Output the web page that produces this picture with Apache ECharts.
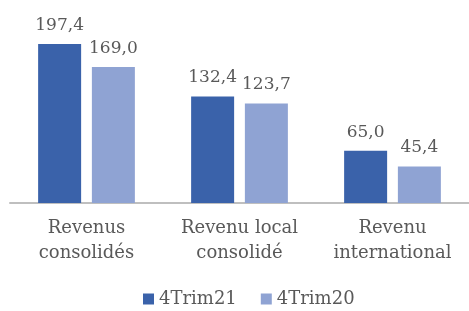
<!DOCTYPE html>
<html>
<head>
<meta charset="utf-8">
<script src="https://cdn.jsdelivr.net/npm/echarts@6/dist/echarts.min.js"></script>
<style>
  html, body { margin: 0; padding: 0; background: #fff; }
  #chart { width: 469px; height: 311px; }
</style>
</head>
<body>
<div id="chart"></div>
<script>
// données
const categories = ['Revenus\nconsolidés', 'Revenu local\nconsolidé', 'Revenu\ninternational']
const trim21 = [197.4, 132.4, 65.0]
const trim20 = [169.0, 123.7, 45.4]

const font = 'DejaVu Serif'
const textColor = '#595959'
const fmt = p => p.value.toFixed(1).replace('.', ',')

const chart = echarts.init(document.getElementById('chart'))

const option = {
  animation: false,
  textStyle: { fontFamily: font },
  legend: {
    bottom: -2,
    left: 138,
    itemWidth: 11,
    itemHeight: 11,
    itemGap: 24,
    icon: 'rect',
    textStyle: { fontFamily: font, fontSize: 18, color: textColor }
  },
  grid: { left: 10, right: -3, top: 42, bottom: 108 },
  xAxis: {
    type: 'category',
    data: categories,
    axisTick: { show: false },
    axisLine: { lineStyle: { color: '#bfbfbf', width: 2 } },
    axisLabel: {
      margin: 13,
      fontFamily: font,
      fontSize: 18,
      lineHeight: 25,
      color: textColor,
      interval: 0
    }
  },
  yAxis: {
    type: 'value',
    min: 0,
    max: 200,
    show: false
  },
  series: [
    {
      name: '4Trim21',
      type: 'bar',
      data: trim21,
      barWidth: 43,
      barGap: '25%',
      itemStyle: { color: '#3a62aa' },
      label: { show: true, position: 'top', distance: 10, formatter: fmt, fontFamily: font, fontSize: 17, color: textColor }
    },
    {
      name: '4Trim20',
      type: 'bar',
      data: trim20,
      barWidth: 43,
      itemStyle: { color: '#8fa3d3' },
      label: { show: true, position: 'top', distance: 10, formatter: fmt, fontFamily: font, fontSize: 17, color: textColor }
    }
  ]
}

chart.setOption(option)
</script>
</body>
</html>
